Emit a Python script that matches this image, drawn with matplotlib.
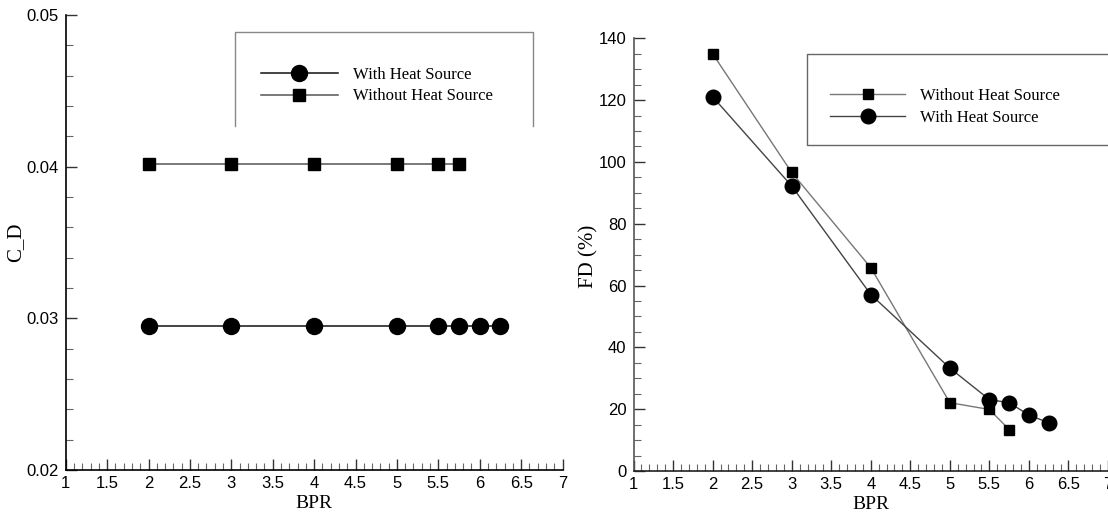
import matplotlib
matplotlib.use('Agg')
import matplotlib.pyplot as plt
from matplotlib.ticker import MultipleLocator

# data
bpr_with = [2, 3, 4, 5, 5.5, 5.75, 6, 6.25]
bpr_without = [2, 3, 4, 5, 5.5, 5.75]
cd_with = [0.0295, 0.0295, 0.0295, 0.0295, 0.0295, 0.0295, 0.0295, 0.0295]
cd_without = [0.0402, 0.0402, 0.0402, 0.0402, 0.0402, 0.0402]
fd_with = [121.1, 92.2, 57.1, 33.3, 23.1, 22.1, 18.1, 15.6]
fd_without = [135.0, 96.6, 65.8, 22.1, 19.9, 13.4]

tick_font = 'Liberation Sans'
text_font = 'Liberation Serif'

fig = plt.figure(figsize=(11.08, 5.13), dpi=100)
ax1 = fig.add_axes([0.0593, 0.0838, 0.4484, 0.887])
ax2 = fig.add_axes([0.5718, 0.0819, 0.4282, 0.8434])


def style_axis(ax, spine_col):
    for s in ['top', 'right']:
        ax.spines[s].set_visible(False)
    for s in ['left', 'bottom']:
        ax.spines[s].set_color(spine_col)
        ax.spines[s].set_linewidth(1.2)
    ax.set_xlim(1, 7)
    ax.xaxis.set_major_locator(MultipleLocator(0.5))
    ax.xaxis.set_minor_locator(MultipleLocator(0.1))
    ax.tick_params(which='major', direction='in', length=8, width=1.0,
                   color='#333333', labelsize=12, pad=5)
    ax.tick_params(which='minor', direction='in', length=5, width=0.8,
                   color='#666666')
    ax.tick_params(axis='x', which='major', pad=4)
    for lab in ax.get_xticklabels() + ax.get_yticklabels():
        lab.set_fontfamily(tick_font)
    ax.xaxis.set_major_formatter(plt.FuncFormatter(lambda v, p: '%g' % v))
    ax.set_xlabel('BPR', fontfamily=text_font, fontsize=14, labelpad=3)


# ---- left panel: drag coefficient
l1, = ax1.plot(bpr_with, cd_with, color='#111111', lw=1.1, marker='o',
               ms=11.5, mfc='black', mec='black', label='With Heat Source')
l2, = ax1.plot(bpr_without, cd_without, color='#555555', lw=1.1, marker='s',
               ms=8, mfc='black', mec='black', label='Without Heat Source')
ax1.set_ylim(0.02, 0.05)
ax1.yaxis.set_major_locator(MultipleLocator(0.01))
ax1.yaxis.set_minor_locator(MultipleLocator(0.002))
ax1.yaxis.set_major_formatter(plt.FuncFormatter(lambda v, p: '%g' % round(v, 3)))
style_axis(ax1, 'black')
ax1.set_ylabel('C_D', fontfamily=text_font, fontsize=15)
ax1.yaxis.set_label_coords(-0.082, 0.5)

leg1 = ax1.legend(handles=[l1, l2], loc='center left',
                  bbox_to_anchor=(0.393, 0.845), frameon=False,
                  prop={'family': text_font, 'size': 12}, handlelength=4.6,
                  handletextpad=0.9, labelspacing=0.35, borderpad=0,
                  borderaxespad=0)
# open box round the legend (no bottom edge)
ax1.plot([0.340, 0.340, 0.940, 0.940], [0.756, 0.963, 0.963, 0.756],
         transform=ax1.transAxes, color='#888888', lw=1, clip_on=False)

# ---- right panel: FD
r1, = ax2.plot(bpr_without, fd_without, color='#777777', lw=1.0, marker='s',
               ms=7.5, mfc='black', mec='black', label='Without Heat Source')
r2, = ax2.plot(bpr_with, fd_with, color='#444444', lw=1.0, marker='o',
               ms=10.5, mfc='black', mec='black', label='With Heat Source')
ax2.set_ylim(0, 140)
ax2.yaxis.set_major_locator(MultipleLocator(20))
ax2.yaxis.set_minor_locator(MultipleLocator(5))
style_axis(ax2, '#555555')
ax2.spines['bottom'].set_color('#222222')
ax2.set_ylabel('FD (%)', fontfamily=text_font, fontsize=15)
ax2.yaxis.set_label_coords(-0.073, 0.495)

leg2 = ax2.legend(handles=[r1, r2], loc='center left',
                  bbox_to_anchor=(0.415, 0.842), frameon=False,
                  prop={'family': text_font, 'size': 12}, handlelength=4.5,
                  handletextpad=0.85, labelspacing=0.35, borderpad=0,
                  borderaxespad=0)
ax2.plot([1.0, 0.366, 0.366, 1.0], [0.964, 0.964, 0.753, 0.753],
         transform=ax2.transAxes, color='#666666', lw=1, clip_on=False)

fig.savefig('out.png', dpi=100)
